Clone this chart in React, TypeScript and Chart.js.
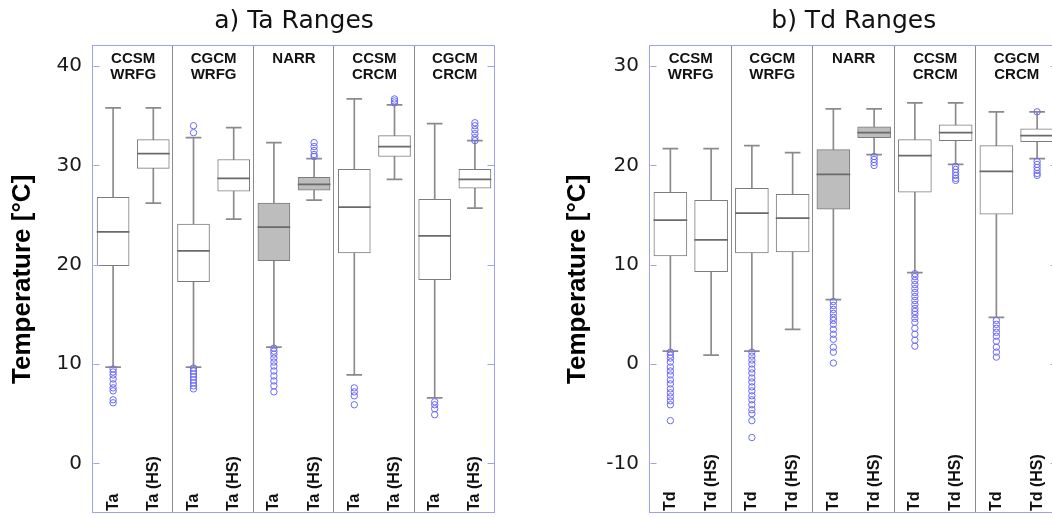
import React, { useEffect, useRef } from "react";
import { Chart, registerables } from "chart.js";

Chart.register(...registerables);

// ---------- shared categories ----------
const groupLabels: string[][] = [
  ["CCSM", "WRFG"],
  ["CGCM", "WRFG"],
  ["NARR"],
  ["CCSM", "CRCM"],
  ["CGCM", "CRCM"],
];
const shadedBoxes = [false, false, false, false, true, true, false, false, false, false];

// ---------- a) Ta ----------
const taCategories = ["Ta", "Ta (HS)", "Ta", "Ta (HS)", "Ta", "Ta (HS)", "Ta", "Ta (HS)", "Ta", "Ta (HS)"];
const taTicks = [0, 10, 20, 30, 40];
const taWhiskerLow = [9.7, 26.2, 9.7, 24.6, 11.7, 26.5, 8.9, 28.6, 6.6, 25.7];
const taQ1 = [19.9, 29.7, 18.3, 27.4, 20.4, 27.5, 21.2, 30.9, 18.5, 27.7];
const taMedian = [23.3, 31.2, 21.4, 28.7, 23.8, 28.1, 25.8, 31.9, 22.9, 28.6];
const taQ3 = [26.8, 32.6, 24.1, 30.6, 26.2, 28.8, 29.6, 33.0, 26.6, 29.6];
const taWhiskerHigh = [35.8, 35.8, 32.8, 33.8, 32.3, 30.7, 36.7, 36.1, 34.2, 32.5];
const taOutliers: number[][] = [
  [9.5, 9.2, 8.9, 8.5, 8.0, 7.6, 7.3, 6.4, 6.1],
  [],
  [34.0, 33.3, 9.6, 9.3, 9.0, 8.7, 8.4, 8.1, 7.8, 7.5],
  [],
  [11.6, 11.3, 11.0, 10.6, 10.2, 9.8, 9.3, 8.8, 8.3, 7.8, 7.2],
  [32.3, 31.9, 31.5, 31.1, 30.9],
  [7.6, 7.2, 6.8, 5.9],
  [36.7, 36.5, 36.3],
  [6.2, 5.9, 5.5, 4.9],
  [34.3, 34.0, 33.6, 33.2, 32.8, 32.5],
];

// ---------- b) Td ----------
const tdCategories = ["Td", "Td (HS)", "Td", "Td (HS)", "Td", "Td (HS)", "Td", "Td (HS)", "Td", "Td (HS)"];
const tdTicks = [-10, 0, 10, 20, 30];
const tdWhiskerLow = [1.3, 0.9, 1.3, 3.5, 6.5, 21.1, 9.2, 20.1, 4.7, 20.7];
const tdQ1 = [10.9, 9.3, 11.2, 11.3, 15.6, 22.8, 17.3, 22.5, 15.1, 22.4];
const tdMedian = [14.5, 12.5, 15.2, 14.7, 19.1, 23.3, 21.0, 23.3, 19.4, 23.0];
const tdQ3 = [17.3, 16.5, 17.7, 17.1, 21.6, 23.9, 22.6, 24.1, 22.0, 23.7];
const tdWhiskerHigh = [21.7, 21.7, 22.0, 21.3, 25.7, 25.7, 26.3, 26.3, 25.4, 25.4];
const tdOutliers: number[][] = [
  [1.2, 0.9, 0.6, 0.2, -0.3, -0.7, -1.1, -1.6, -2.0, -2.5, -2.9, -3.3, -3.7, -4.1, -5.7],
  [],
  [1.2, 0.8, 0.4, 0.0, -0.5, -0.9, -1.4, -1.8, -2.3, -2.7, -3.2, -3.6, -4.1, -4.6, -5.0, -5.7, -7.4],
  [],
  [6.3, 5.9, 5.5, 5.1, 4.7, 4.4, 4.0, 3.5, 3.0, 2.5, 1.7, 1.2, 0.1],
  [20.9, 20.6, 20.3, 20.0],
  [9.1, 8.8, 8.4, 8.0, 7.6, 7.2, 6.8, 6.4, 6.0, 5.6, 5.3, 5.0, 4.6, 4.2, 3.6, 3.0, 2.4, 1.8],
  [19.9, 19.6, 19.3, 19.0, 18.7, 18.5],
  [4.4, 4.0, 3.6, 3.2, 2.8, 2.3, 1.7, 1.2, 0.7],
  [25.4, 20.4, 20.1, 19.8, 19.5, 19.2, 19.0],
];

// ---------- styles ----------
const FRAME = "rgb(160,160,250)";
const OUTLIER = "rgb(105,105,250)";
const BOX_LINE = "#7c7c7c";
const WHISKER = "#8a8a8a";
const DIVIDER = "#8c8c8c";
const SHADE = "#bdbdbd";

interface PanelCfg {
  title: string;
  categories: string[];
  ticks: number[];
  yMin: number;
  yMax: number;
  low: number[];
  q1: number[];
  med: number[];
  q3: number[];
  high: number[];
  outliers: number[][];
  canvasWidth: number;
  left: number;
  axisWidth: number;
  rightPad: number;
  yTitlePad: number;
  boxWidth: number;
}

function makeDecor(cfg: PanelCfg) {
  return {
    id: "decor",
    beforeDatasetsDraw(chart: any) {
      const { ctx, chartArea: a, scales } = chart;
      const x = scales.x;
      ctx.save();
      ctx.strokeStyle = DIVIDER;
      ctx.lineWidth = 1;
      for (let g = 1; g < groupLabels.length; g++) {
        const px = Math.round(x.getPixelForValue(2 * g - 0.5)) - 0.5;
        ctx.beginPath();
        ctx.moveTo(px, a.top);
        ctx.lineTo(px, a.bottom);
        ctx.stroke();
      }
      ctx.restore();
    },
    afterDatasetsDraw(chart: any) {
      const { ctx, chartArea: a, scales } = chart;
      const x = scales.x;
      const y = scales.y;
      ctx.save();
      // frame
      ctx.strokeStyle = FRAME;
      ctx.lineWidth = 1;
      const L = Math.round(a.left) - 0.5;
      const R = Math.round(a.right) - 0.5;
      const T = Math.round(a.top) - 0.5;
      const B = Math.round(a.bottom) - 0.5;
      ctx.strokeRect(L, T, R - L, B - T);
      // inward tick marks
      cfg.ticks.forEach((v) => {
        const py = Math.round(y.getPixelForValue(v)) + 0.5;
        ctx.beginPath();
        ctx.moveTo(L + 1, py);
        ctx.lineTo(L + 7, py);
        ctx.moveTo(R - 7, py);
        ctx.lineTo(R, py);
        ctx.stroke();
      });
      // group labels
      ctx.fillStyle = "#111";
      ctx.font = "bold 15px 'Liberation Sans', Arial, sans-serif";
      ctx.textAlign = "center";
      ctx.textBaseline = "middle";
      groupLabels.forEach((lines, g) => {
        const cx = x.getPixelForValue(2 * g + 0.5);
        lines.forEach((t, k) => {
          ctx.fillText(t, cx, a.top + 13 + k * 16.5);
        });
      });
      // category labels (rotated)
      ctx.font = "bold 16px 'Liberation Sans', Arial, sans-serif";
      ctx.textAlign = "left";
      cfg.categories.forEach((t, i) => {
        const cx = x.getPixelForValue(i);
        ctx.save();
        ctx.translate(cx, a.bottom - 2);
        ctx.rotate(-Math.PI / 2);
        ctx.fillText(t, 0, 0);
        ctx.restore();
      });
      ctx.restore();
    },
  };
}

function Panel({ cfg }: { cfg: PanelCfg }) {
  const ref = useRef<HTMLCanvasElement>(null);
  useEffect(() => {
    if (!ref.current) return;
    const idx = cfg.low.map((_, i) => i);
    const thin = 0.055;
    const chart = new Chart(ref.current, {
      type: "bar",
      data: {
        datasets: [
          {
            type: "scatter",
            data: cfg.outliers.flatMap((arr, i) => arr.map((v) => ({ x: i, y: v }))),
            pointRadius: 3.2,
            pointBorderWidth: 1,
            pointBorderColor: OUTLIER,
            pointBackgroundColor: "rgba(0,0,0,0)",
            order: 0,
          } as any,
          {
            data: idx.map((i) => ({ x: i, y: [cfg.high[i] - thin, cfg.high[i] + thin] })),
            backgroundColor: WHISKER,
            barThickness: 15,
            grouped: false,
            order: 1,
          } as any,
          {
            data: idx.map((i) => ({ x: i, y: [cfg.low[i] - thin, cfg.low[i] + thin] })),
            backgroundColor: WHISKER,
            barThickness: 15,
            grouped: false,
            order: 1,
          } as any,
          {
            data: idx.map((i) => ({ x: i, y: [cfg.med[i] - thin, cfg.med[i] + thin] })),
            backgroundColor: "#6a6a6a",
            barThickness: cfg.boxWidth,
            grouped: false,
            order: 2,
          } as any,
          {
            data: idx.map((i) => ({ x: i, y: [cfg.q1[i], cfg.q3[i]] })),
            backgroundColor: idx.map((i) => (shadedBoxes[i] ? SHADE : "#ffffff")),
            borderColor: BOX_LINE,
            borderWidth: 1,
            borderSkipped: false,
            barThickness: cfg.boxWidth,
            grouped: false,
            order: 3,
          } as any,
          {
            data: idx.map((i) => ({ x: i, y: [cfg.low[i], cfg.high[i]] })),
            backgroundColor: WHISKER,
            barThickness: 1,
            grouped: false,
            order: 4,
          } as any,
        ],
      },
      options: {
        animation: false,
        responsive: false,
        events: [],
        layout: { padding: { left: 0, right: cfg.rightPad, top: 0, bottom: 2 } },
        plugins: {
          legend: { display: false },
          tooltip: { enabled: false },
          title: {
            display: true,
            text: cfg.title,
            fullSize: false,
            color: "#111",
            font: { family: "'DejaVu Sans', sans-serif", size: 25, weight: "normal" },
            padding: { top: 6, bottom: 9.7 },
          },
        },
        scales: {
          x: {
            type: "linear",
            min: -0.5,
            max: 9.5,
            offset: false,
            display: false,
          },
          y: {
            type: "linear",
            min: cfg.yMin,
            max: cfg.yMax,
            afterBuildTicks: (s: any) => {
              s.ticks = cfg.ticks.map((v) => ({ value: v }));
            },
            afterFit: (s: any) => {
              s.width = cfg.axisWidth;
              s.paddingTop = 0;
              s.paddingBottom = 0;
            },
            grid: { display: false, drawTicks: false },
            border: { display: false },
            ticks: {
              padding: 11,
              color: "#1a1a1a",
              font: { family: "'DejaVu Sans', sans-serif", size: 20 },
            },
            title: {
              display: true,
              text: "Temperature [°C]",
              color: "#000",
              font: { family: "'Liberation Sans', Arial, sans-serif", size: 26, weight: "bold" },
              padding: { top: cfg.yTitlePad, bottom: 0 },
            },
          },
        },
      } as any,
      plugins: [makeDecor(cfg)],
    });
    return () => chart.destroy();
  }, []);
  return (
    <canvas
      ref={ref}
      width={cfg.canvasWidth}
      height={518}
      style={{ position: "absolute", left: cfg.left, top: 0, width: cfg.canvasWidth, height: 518 }}
    />
  );
}

const taPanel: PanelCfg = {
  title: "a) Ta Ranges",
  categories: taCategories,
  ticks: taTicks,
  yMin: -5,
  yMax: 42.06,
  low: taWhiskerLow,
  q1: taQ1,
  med: taMedian,
  q3: taQ3,
  high: taWhiskerHigh,
  outliers: taOutliers,
  canvasWidth: 530,
  left: 0,
  axisWidth: 93,
  rightPad: 35,
  yTitlePad: 7,
  boxWidth: 32,
};

const tdPanel: PanelCfg = {
  title: "b) Td Ranges",
  categories: tdCategories,
  ticks: tdTicks,
  yMin: -15,
  yMax: 32.06,
  low: tdWhiskerLow,
  q1: tdQ1,
  med: tdMedian,
  q3: tdQ3,
  high: tdWhiskerHigh,
  outliers: tdOutliers,
  canvasWidth: 560,
  left: 530,
  axisWidth: 120,
  rightPad: 32.5,
  yTitlePad: 32,
  boxWidth: 33,
};

export default function App() {
  return (
    <div
      style={{
        position: "absolute",
        left: 0,
        top: 0,
        width: 1052,
        height: 518,
        overflow: "hidden",
        background: "#fff",
      }}
    >
      <Panel cfg={taPanel} />
      <Panel cfg={tdPanel} />
    </div>
  );
}
